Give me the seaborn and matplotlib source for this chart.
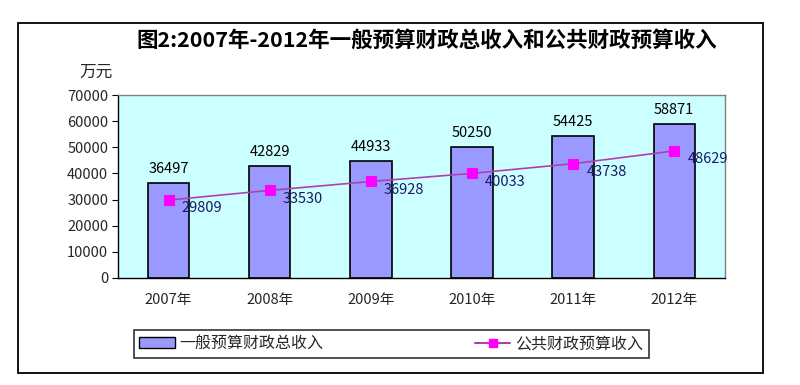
import numpy as np
import pandas as pd
import matplotlib
matplotlib.use('Agg')
import matplotlib.pyplot as plt
import seaborn as sns
from matplotlib.patches import Patch, Rectangle
from matplotlib.lines import Line2D

# ── Data ───────────────────────────────────────────────────────────────────────
years = ['2007年', '2008年', '2009年', '2010年', '2011年', '2012年']
general_budget = [36497, 42829, 44933, 50250, 54425, 58871]
public_budget = [29809, 33530, 36928, 40033, 43738, 48629]
y_ticks = [0, 10000, 20000, 30000, 40000, 50000, 60000, 70000]

TITLE = '图2:2007年-2012年一般预算财政总收入和公共财政预算收入'
BAR_LABEL = '一般预算财政总收入'
LINE_LABEL = '公共财政预算收入'

sns.set_style('white')
plt.rcParams['font.family'] = ['Noto Sans CJK SC', 'DejaVu Sans']

df = pd.DataFrame({'year': years, 'general': general_budget, 'public': public_budget})

fig = plt.figure(figsize=(8, 3.85), dpi=100)
ax = fig.add_axes([0.1475, 0.278, 0.7585, 0.475])
ax.set_facecolor('#CCFFFF')

# ── Bars + line ────────────────────────────────────────────────────────────────
sns.barplot(data=df, x='year', y='general', color='#9999FF', edgecolor='black',
            linewidth=1.2, width=0.41, saturation=1, ax=ax)
sns.lineplot(data=df, x='year', y='public', color='#B040B0', linewidth=1.2,
             marker='s', markersize=7, markerfacecolor='#FF00FF',
             markeredgecolor='#FF00FF', ax=ax)

for i, v in enumerate(general_budget):
    ax.annotate(f'{v}', (i, v), xytext=(0, 5), textcoords='offset points',
                ha='center', va='bottom', fontsize=10.5, color='black')
for i, v in enumerate(public_budget):
    ax.annotate(f'{v}', (i, v), xytext=(24, -6), textcoords='offset points',
                ha='center', va='center', fontsize=10.5, color='#1a1a66')

# ── Axes ───────────────────────────────────────────────────────────────────────
ax.set_ylim(0, 70000)
ax.set_xlim(-0.5, len(years) - 0.5)
ax.set_yticks(y_ticks)
ax.set_yticklabels([str(t) for t in y_ticks], fontsize=10.5)
ax.set_xticks(np.arange(len(years) + 1) - 0.5)
ax.set_xticklabels([])
ax.set_xticks(np.arange(len(years)), minor=True)
ax.set_xticklabels(years, minor=True, fontsize=10.5)
ax.tick_params(axis='x', which='major', length=4, direction='in', color='black')
ax.tick_params(axis='x', which='minor', length=0, pad=11)
ax.tick_params(axis='y', length=4, direction='out', color='black', pad=3, left=True)
ax.set_xlabel('')
ax.set_ylabel('')
for side in ['top', 'right']:
    ax.spines[side].set_color('#808080')
    ax.spines[side].set_linewidth(1.0)
for side in ['left', 'bottom']:
    ax.spines[side].set_color('black')
    ax.spines[side].set_linewidth(1.0)
if ax.get_legend():
    ax.get_legend().remove()

# ── Title, unit, legend, frame ─────────────────────────────────────────────────
fig.text(0.533, 0.895, TITLE, ha='center', va='center', fontsize=15.5,
         fontweight='bold', color='black')
fig.text(0.12, 0.812, '万元', ha='center', va='center', fontsize=12)

handles = [
    Patch(facecolor='#9999FF', edgecolor='black', label=BAR_LABEL),
    Line2D([0], [0], color='#B040B0', marker='s', markersize=6,
           markerfacecolor='#FF00FF', markeredgecolor='#FF00FF', label=LINE_LABEL),
]
leg = fig.legend(handles=handles, loc='center', bbox_to_anchor=(0.489, 0.107),
                 ncol=2, fontsize=11.5, frameon=True, fancybox=False,
                 edgecolor='black', columnspacing=9.5, handlelength=2.2,
                 borderpad=0.35, handletextpad=0.3)
leg.get_frame().set_linewidth(1.2)
leg.get_frame().set_boxstyle('square', pad=0.0)

fig.patches.append(Rectangle((0.0225, 0.031), 0.931, 0.909, transform=fig.transFigure,
                             fill=False, edgecolor='black', linewidth=1.3))

plt.savefig('out.png', dpi=100)
plt.close()
